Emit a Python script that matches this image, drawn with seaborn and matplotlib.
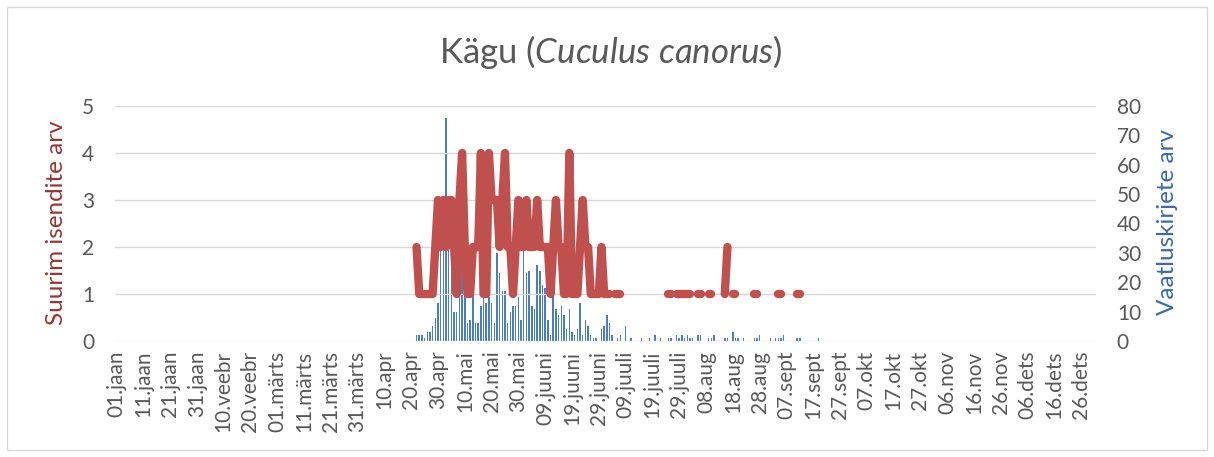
import numpy as np
import pandas as pd
import matplotlib
matplotlib.use("Agg")
import matplotlib.pyplot as plt
import seaborn as sns
from matplotlib.patches import Rectangle

# x axis: one category per day of a leap year, labels every 10th day
n_days = 366
tick_labels = ["01.jaan", "11.jaan", "21.jaan", "31.jaan", "10.veebr", "20.veebr",
               "01.märts", "11.märts", "21.märts", "31.märts", "10.apr", "20.apr",
               "30.apr", "10.mai", "20.mai", "30.mai", "09.juuni", "19.juuni",
               "29.juuni", "09.juuli", "19.juuli", "29.juuli", "08.aug", "18.aug",
               "28.aug", "07.sept", "17.sept", "27.sept", "07.okt", "17.okt",
               "27.okt", "06.nov", "16.nov", "26.nov", "06.dets", "16.dets", "26.dets"]

# number of observation records per day, starting on day index 112
first_day = 112
records = [2, 2, 2, 1, 3, 3, 5, 8, 13, 31, 31, 76, 31, 31, 10, 10, 36, 40, 20, 6,
           7, 17, 6, 6, 12, 16, 13, 15, 13, 6, 30, 23, 17, 17, 6, 10, 12, 12, 15, 7,
           31, 23, 24, 12, 11, 26, 24, 19, 18, 7, 2, 16, 11, 9, 12, 9, 4, 11, 3, 2,
           4, 13, 2, 7, 5, 2, 1, 1, 0, 4, 5, 9, 6, 2, 0, 1, 2, 0, 5, 0,
           1, 0, 0, 0, 1, 0, 0, 1, 0, 2, 0, 1, 0, 0, 1, 1, 0, 2, 1, 2,
           1, 2, 1, 1, 0, 2, 2, 0, 0, 1, 1, 2, 0, 0, 0, 1, 1, 0, 3, 1,
           1, 0, 1, 0, 0, 0, 1, 1, 2, 0, 0, 0, 1, 0, 1, 1, 1, 2, 0, 0,
           0, 0, 1, 1, 0, 0, 0, 0, 0, 0, 1]

# largest number of individuals per day (continuous part from day 112, None = no value)
max_main = [2, 1, 1, 1, 1, 1, 1, 2, 3, 2, 3, 2, 3, 3, 2, 1, 3, 4, 2, 1,
            1, 2, 2, 2, 4, 1, 1, 4, 3, 3, 3, 2, 3, 4, 2, 2, 1, 2, 3, 2,
            2, 3, 2, 2, 2, 3, 2, 2, 2, 2, 1, 2, 3, 2, 2, 1, 1, 4, 1, 1,
            1, 2, 3, 2, 2, 1, 1, 1, 1, 2, 1, 1, 1, None, 1, 1, 1]
# scattered values later in summer
late_days = [206, 207, 209, 210, 211, 212, 213, 214, 217, 218, 221, 222,
             227, 228, 230, 231, 238, 239, 247, 248, 254, 255]
late_max = [1, 1, 1, 1, 1, 1, 1, 1, 1, 1, 1, 1,
            1, 2, 1, 1, 1, 1, 1, 1, 1, 1]

day = np.arange(n_days)
rec_full = np.zeros(n_days)
rec_full[first_day:first_day + len(records)] = records
max_full = np.full(n_days, np.nan)
max_full[first_day:first_day + len(max_main)] = [np.nan if v is None else v for v in max_main]
max_full[late_days] = late_max

df = pd.DataFrame({"day": day, "records": rec_full, "max": max_full})
df["seg"] = df["max"].isna().cumsum()
line_df = df.dropna(subset=["max"])
bar_df = df[df["records"] > 0]

sns.set_theme(style="white")
plt.rcParams["font.family"] = ["Lato", "DejaVu Sans"]
plt.rcParams["mathtext.fontset"] = "custom"
plt.rcParams["mathtext.rm"] = "Lato"
plt.rcParams["mathtext.it"] = "Lato:italic"

W, H = 1214, 457
fig = plt.figure(figsize=(W / 100, H / 100), dpi=100)
fig.patches.append(Rectangle((7 / W, 7 / H), 1200 / W, 443 / H, transform=fig.transFigure,
                             fill=False, edgecolor="#D9D9D9", lw=1))
ax = fig.add_axes([115 / W, 1 - 341 / H, 981 / W, 235 / H])
ax2 = ax.twinx()

sns.barplot(data=bar_df, x="day", y="records", native_scale=True, width=0.55,
            color="#4A7EC4", saturation=1, linewidth=0, errorbar=None, ax=ax2)
sns.lineplot(data=line_df, x="day", y="max", units="seg", estimator=None,
             color="#C0504D", linewidth=6, solid_capstyle="round",
             solid_joinstyle="round", ax=ax)

ax.set_zorder(ax2.get_zorder() + 1)
ax.patch.set_visible(False)

ax.set_xlim(-0.5, n_days - 0.5)
ax.set_ylim(0, 5)
ax2.set_ylim(0, 80)
ax.set_yticks(range(0, 6))
ax2.set_yticks(range(0, 81, 10))
ax.set_xticks(range(0, 361, 10))
ax.set_xticklabels(tick_labels, rotation=90, va="top", ha="center")

ax.yaxis.grid(True, color="#D9D9D9", lw=1)
ax.xaxis.grid(False)
ax.set_axisbelow(True)
for a in (ax, ax2):
    for s in a.spines.values():
        s.set_visible(False)
    a.set_xlabel("")
    a.set_ylabel("")
ax.tick_params(axis="both", length=0, labelsize=15, colors="#595959")
ax.tick_params(axis="y", pad=15)
ax.tick_params(axis="x", pad=7)
ax2.tick_params(axis="y", length=0, labelsize=15, colors="#595959", pad=15)

fig.text(611 / W, 1 - 63 / H, r"Kägu ($\mathit{Cuculus\ canorus}$)", ha="center",
         va="baseline", fontsize=25, color="#595959")
fig.text(57 / W, 1 - 223 / H, "Suurim isendite arv", rotation=90, ha="center",
         va="center", fontsize=17.5, color="#953735")
fig.text(1168 / W, 1 - 222 / H, "Vaatluskirjete arv", rotation=90, ha="center",
         va="center", fontsize=17.5, color="#3C6AA6")

fig.savefig("out.png", dpi=100)
